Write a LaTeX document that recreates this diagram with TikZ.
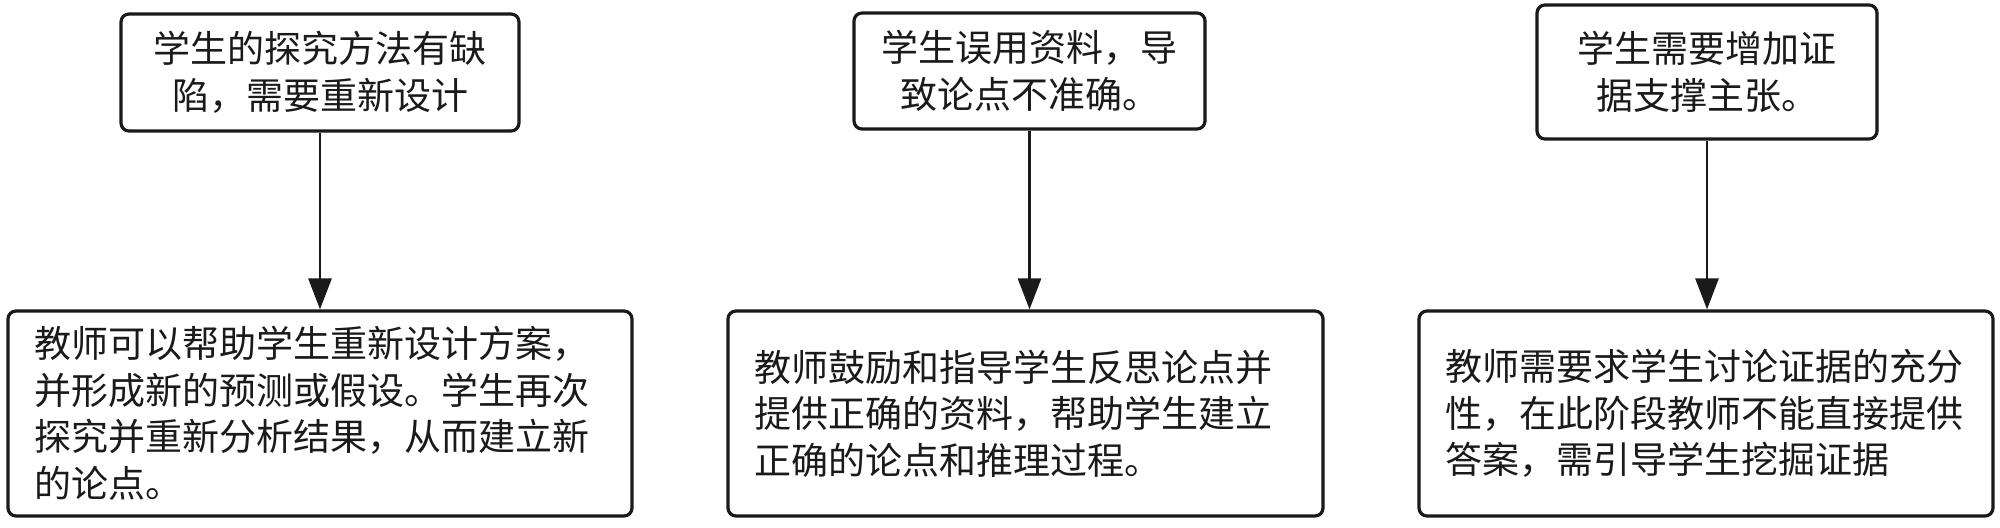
\documentclass[tikz,border=0pt]{standalone}
\usepackage{fontspec}
\newfontfamily\cjk{Noto Sans CJK SC}
\usetikzlibrary{arrows.meta}
\definecolor{ink}{HTML}{1A1A1A}
\tikzset{
  x=0.5pt, y=-0.5pt,
  topbox/.style={draw=ink, line width=1.6pt, rounded corners=4pt, fill=white,
    inner sep=0pt, align=center, text=ink,
    font=\cjk\fontsize{18.5pt}{23.5pt}\selectfont},
  botbox/.style={draw=ink, line width=1.6pt, rounded corners=4pt, fill=white,
    inner xsep=13pt, inner ysep=0pt, align=left, text=ink,
    minimum height=102.5pt,
    font=\cjk\fontsize{18.5pt}{23.25pt}\selectfont},
  arr/.style={draw=ink, line width=1.4pt, -{Triangle[length=15.5pt, width=11.5pt]}}
}
\begin{document}
\begin{tikzpicture}
\useasboundingbox (0,0) rectangle (2000,528);
\fill[white] (0,0) rectangle (2000,528);

\node[topbox, minimum width=199pt, minimum height=58.5pt] (t1) at (320,72.5)
  {学生的探究方法有缺\\陷，需要重新设计};
\node[topbox, minimum width=175.5pt, minimum height=58pt] (t2) at (1029.5,71)
  {学生误用资料，导\\致论点不准确。};
\node[topbox, minimum width=170pt, minimum height=67pt] (t3) at (1707,72)
  {学生需要增加证\\据支撑主张。};

\node[botbox, text width=286pt] (b1) at (320,413.5)
  {教师可以帮助学生重新设计方案，\\并形成新的预测或假设。学生再次\\探究并重新分析结果，从而建立新\\的论点。};
\node[botbox, text width=271.5pt] (b2) at (1025.5,413.5)
  {教师鼓励和指导学生反思论点并\\提供正确的资料，帮助学生建立\\正确的论点和推理过程。};
\node[botbox, text width=261pt] (b3) at (1706,413.5)
  {教师需要求学生讨论证据的充分\\性，在此阶段教师不能直接提供\\答案，需引导学生挖掘证据};

\draw[arr] (t1.south) -- (t1.south |- b1.north);
\draw[arr] (t2.south) -- (t2.south |- b2.north);
\draw[arr] (t3.south) -- (t3.south |- b3.north);
\end{tikzpicture}
\end{document}
